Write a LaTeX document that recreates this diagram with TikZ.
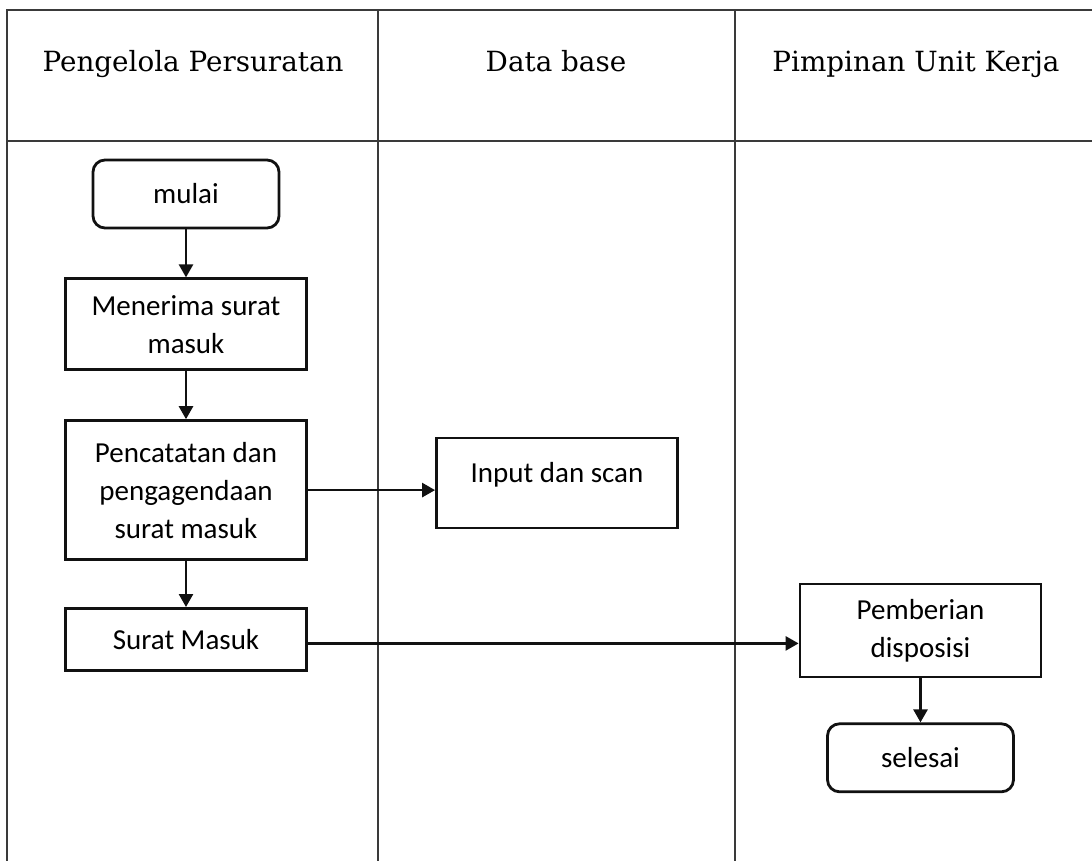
\documentclass[tikz,border=0pt]{standalone}
\usepackage{fontspec}
\setmainfont{DejaVu Serif}
\newfontfamily\boxfont{Carlito}
\usepackage{tikz}
\usetikzlibrary{positioning, arrows.meta}
\definecolor{lanegray}{HTML}{3A3A3A}
\definecolor{boxblack}{HTML}{111111}
\tikzset{
  >={Triangle[length=6.5pt, width=7pt]},
  lanehead/.style={anchor=base, font=\fontsize{13.9}{16}\selectfont},
  laneline/.style={draw=lanegray, line width=0.6pt},
  process/.style={
    rectangle, draw=boxblack, line width=1.4pt,
    minimum width=120.5pt, align=center, inner sep=2pt,
    font=\boxfont\fontsize{14.5}{19}\selectfont
  },
  terminal/.style={
    process, rounded corners=6pt, minimum width=93pt, minimum height=34pt
  },
  flowarrow/.style={->, boxblack, line width=1.3pt}
}

\begin{document}
\begin{tikzpicture}[x=0.5pt, y=-0.5pt]
\useasboundingbox (0,0) rectangle (1092,861);

% Swimlane grid
\draw[laneline] (1092,10) -- (7,10) -- (7,861);
\draw[laneline] (7,141) -- (1092,141);
\draw[laneline] (378,10) -- (378,861);
\draw[laneline] (735,10) -- (735,861);

% Lane headers
\node[lanehead] (hpengelola) at (193,72) {Pengelola Persuratan};
\node[lanehead] (hdatabase) at (556,72) {Data base};
\node[lanehead] (hpimpinan) at (916,72) {Pimpinan Unit Kerja};

% Pengelola Persuratan lane
\node[terminal] (mulai) at (186,194) {mulai};
\node[process, minimum height=45.5pt, below=24pt of mulai] (menerima)
  {Menerima surat\\masuk};
\node[process, minimum height=69.5pt, below=24pt of menerima] (pencatatan)
  {Pencatatan dan\\pengagendaan\\surat masuk};
\node[process, minimum height=31pt, below=23pt of pencatatan] (suratmasuk)
  {Surat Masuk};

% Data base lane
\node[process, text height=20pt, text depth=21pt] (input) at (557,483)
  {Input dan scan};

% Pimpinan Unit Kerja lane
\node[process, minimum height=46.5pt] (pemberian) at (920.5,630.5)
  {Pemberian\\disposisi};
\node[terminal, below=22pt of pemberian] (selesai) {selesai};

% Edges
\draw[flowarrow] (mulai.south) -- (menerima.north);
\draw[flowarrow] (menerima.south) -- (pencatatan.north);
\draw[flowarrow] (pencatatan.south) -- (suratmasuk.north);
\draw[flowarrow] (pencatatan.east) -- (pencatatan.east -| input.west);
\draw[flowarrow] ([yshift=-2pt] suratmasuk.east) --
   ([yshift=-2pt] suratmasuk.east -| pemberian.west);
\draw[flowarrow] (pemberian.south) -- (selesai.north);

\end{tikzpicture}
\end{document}
